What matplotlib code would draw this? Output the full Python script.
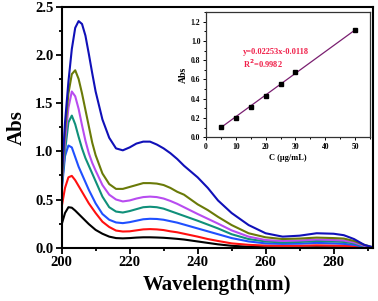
import matplotlib
matplotlib.use('Agg')
import matplotlib.pyplot as plt
from matplotlib.ticker import MultipleLocator

plt.rcParams['font.family'] = ['Liberation Serif', 'DejaVu Serif']
plt.rcParams['font.weight'] = 'bold'

# wavelength grid (nm)
wl = [200, 201, 202, 203, 204, 205, 206, 207, 208, 209, 210, 212, 214, 216, 218,
      220, 222, 224, 226, 228, 230, 232, 234, 236, 238, 240, 243, 246, 250, 255,
      260, 265, 270, 275, 280, 283, 286, 289, 292]

abs_black = [0.24, 0.36, 0.42, 0.415, 0.385, 0.35, 0.315, 0.28, 0.245, 0.215, 0.185, 0.145, 0.115, 0.10, 0.097,
             0.10, 0.105, 0.108, 0.108, 0.106, 0.103, 0.098, 0.092, 0.085, 0.075, 0.065, 0.05, 0.035, 0.02, 0.01,
             0.005, 0.003, 0.003, 0.005, 0.004, 0.003, 0.002, 0.0, 0.0]
abs_red = [0.42, 0.62, 0.73, 0.745, 0.70, 0.64, 0.58, 0.52, 0.46, 0.41, 0.36, 0.27, 0.215, 0.178, 0.168,
           0.17, 0.18, 0.19, 0.193, 0.19, 0.183, 0.17, 0.16, 0.145, 0.13, 0.115, 0.09, 0.07, 0.045, 0.03,
           0.022, 0.02, 0.02, 0.025, 0.022, 0.02, 0.015, 0.005, 0.0]
abs_blue = [0.58, 0.95, 1.06, 1.04, 0.94, 0.84, 0.76, 0.68, 0.60, 0.53, 0.46, 0.35, 0.29, 0.262, 0.255,
            0.265, 0.28, 0.295, 0.30, 0.298, 0.29, 0.275, 0.26, 0.24, 0.22, 0.20, 0.17, 0.14, 0.10, 0.065,
            0.045, 0.04, 0.042, 0.05, 0.045, 0.04, 0.03, 0.01, 0.0]
abs_teal = [0.62, 1.0, 1.30, 1.37, 1.28, 1.15, 1.03, 0.93, 0.85, 0.77, 0.69, 0.53, 0.42, 0.375, 0.365,
            0.38, 0.40, 0.42, 0.425, 0.42, 0.405, 0.38, 0.355, 0.33, 0.305, 0.28, 0.24, 0.20, 0.14, 0.09,
            0.065, 0.055, 0.06, 0.07, 0.065, 0.06, 0.045, 0.015, 0.0]
abs_violet = [0.65, 1.1, 1.45, 1.62, 1.57, 1.44, 1.27, 1.11, 0.98, 0.88, 0.80, 0.65, 0.55, 0.50, 0.48,
              0.49, 0.51, 0.525, 0.53, 0.525, 0.51, 0.485, 0.455, 0.42, 0.385, 0.35, 0.30, 0.25, 0.18, 0.115,
              0.08, 0.07, 0.075, 0.085, 0.08, 0.075, 0.055, 0.02, 0.0]
abs_olive = [0.68, 1.2, 1.6, 1.8, 1.84, 1.75, 1.6, 1.43, 1.26, 1.09, 0.96, 0.77, 0.66, 0.61, 0.61,
             0.63, 0.65, 0.67, 0.67, 0.665, 0.65, 0.62, 0.58, 0.55, 0.50, 0.45, 0.39, 0.32, 0.235, 0.15,
             0.108, 0.09, 0.095, 0.105, 0.10, 0.095, 0.07, 0.03, 0.0]
abs_navy = [0.7, 1.3, 1.72, 2.06, 2.28, 2.35, 2.32, 2.2, 2.01, 1.81, 1.62, 1.33, 1.14, 1.03, 1.01,
            1.04, 1.08, 1.10, 1.10, 1.07, 1.03, 0.98, 0.92, 0.85, 0.79, 0.73, 0.62, 0.49, 0.36, 0.235,
            0.15, 0.115, 0.125, 0.15, 0.145, 0.13, 0.09, 0.03, 0.0]

series = [abs_black, abs_red, abs_blue, abs_teal, abs_violet, abs_olive, abs_navy]
colors = ['#000000', '#ff1010', '#2050ff', '#10907a', '#b84cf0', '#6a7a08', '#1010b8']

# calibration inset
conc = [5, 10, 15, 20, 25, 30, 50]
abs_cal = [0.11, 0.20, 0.31, 0.43, 0.55, 0.68, 1.11]
slope = 0.02253
icept = -0.0118

fig = plt.figure(figsize=(3.78, 3.01), dpi=100)
ax = fig.add_axes([0.163, 0.177, 0.823, 0.801])
for y, c in zip(series, colors):
    ax.plot(wl, y, color=c, lw=1.5, solid_joinstyle='round')

ax.set_xlim(200, 291.5)
ax.set_ylim(0, 2.5)
ax.xaxis.set_major_locator(MultipleLocator(20))
ax.xaxis.set_minor_locator(MultipleLocator(10))
ax.yaxis.set_major_locator(MultipleLocator(0.5))
ax.yaxis.set_minor_locator(MultipleLocator(0.25))
ax.yaxis.set_major_formatter(matplotlib.ticker.FormatStrFormatter('%.1f'))
ax.tick_params(which='both', direction='out', top=False, right=False, width=1.3)
ax.tick_params(which='major', length=4, labelsize=10.5, pad=2)
ax.tick_params(which='minor', length=2.5)
for s in ax.spines.values():
    s.set_linewidth(1.5)
ax.set_xlabel('Wavelength(nm)', fontsize=15, fontweight='bold', labelpad=4)
ax.set_ylabel('Abs', fontsize=15, fontweight='bold', labelpad=6)

ins = fig.add_axes([0.545, 0.544, 0.434, 0.416])
fit_x = [conc[0], conc[-1]]
fit_y = [slope * v + icept for v in fit_x]
ins.plot(fit_x, fit_y, color='#7a1f70', lw=0.9)
ins.plot(conc, abs_cal, 's', color='black', ms=2.2)
ins.set_xlim(0, 55)
ins.set_ylim(0, 1.3)
ins.xaxis.set_major_locator(MultipleLocator(10))
ins.xaxis.set_minor_locator(MultipleLocator(5))
ins.yaxis.set_major_locator(MultipleLocator(0.2))
ins.yaxis.set_minor_locator(MultipleLocator(0.1))
ins.yaxis.set_major_formatter(matplotlib.ticker.FormatStrFormatter('%.1f'))
ins.tick_params(which='both', direction='out', top=False, right=False, width=0.7)
ins.tick_params(which='major', length=2.5, labelsize=5.5, pad=1.5)
ins.tick_params(which='minor', length=1.5)
for s in ins.spines.values():
    s.set_linewidth(0.9)
    s.set_color('#333333')
ins.set_xlabel('C (μg/mL)', fontsize=6, fontweight='bold', labelpad=2)
ins.set_ylabel('Abs', fontsize=7, fontweight='bold', labelpad=2)
ins.text(12.5, 0.86, 'y=0.02253x-0.0118', color='#f0204a', fontsize=6, fontweight='bold')
ins.text(12.5, 0.72, 'R$^\\mathbf{2}$=0.9982', color='#f0204a', fontsize=6, fontweight='bold')

fig.savefig('out.png', dpi=100)
